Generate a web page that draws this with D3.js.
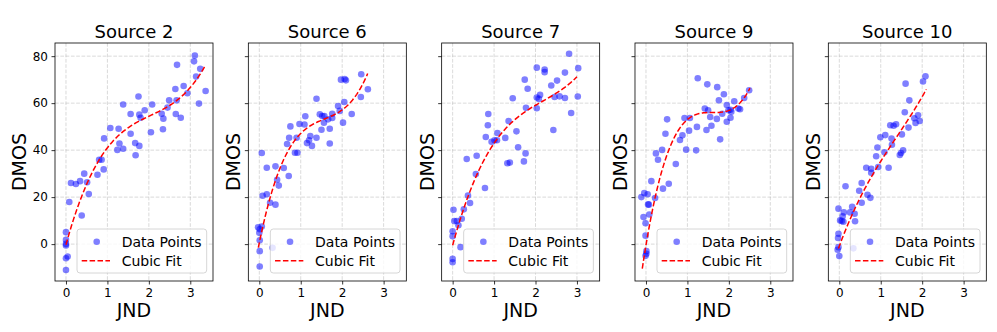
<html>
  <head>
    <meta charset="utf-8" />
    <script src="https://d3js.org/d3.v7.min.js"></script>
    <style>
      body {
        margin: 0;
        background: #fff;
      }
      text {
        font-family: "DejaVu Sans", sans-serif;
        fill: #000;
      }
    </style>
  </head>

  <body>
    <svg id="chart" width="997" height="332"></svg>
    <script>
      // values
      var sources = ["Source 2", "Source 6", "Source 7", "Source 9", "Source 10"];

      var jnd2 = [0, 0, 0, 0, 0, 0.04, 0, 0.08, 0.12, 0.24, 0.34, 0.44, 0.51, 0.55, 0.38, 0.76, 0.8, 0.86, 0.91, 0.92,
        1.07, 1.27, 1.29, 1.38, 1.24, 1.38, 1.56, 1.56, 1.67, 1.68, 1.77, 1.75, 1.77, 1.8, 1.9, 2.05, 2.08, 2.31, 2.35,
        2.34, 2.45, 2.49, 2.64, 2.65, 2.67, 2.68, 2.77, 2.84, 2.93, 3.11, 3.09, 3.14, 3.21, 3.24, 3.37];
      var dmos2 = [5.1, 1.8, 0.1, -0.6, -6, -5.3, -11, 17.9, 26, 25.6, 26.8, 30, 26.3, 21.3, 12.2, 29.5, 35.9, 35.9, 31.8, 45,
        49.4, 49.1, 42.8, 40.6, 40.1, 59.4, 47, 55.4, 43, 37.8, 41.8, 62.8, 55.1, 53.8, 57, 47.6, 59.4, 55.5, 53.4,
        48.9, 58.1, 61.2, 66, 55.4, 61.2, 76.3, 53.8, 67.3, 64.2, 80.3, 77.8, 71.3, 59.8, 74.6, 65.2];

      var jnd6 = [-0.03, 0.01, 0.06, 0, 0.01, 0.01, 0.01, 0.32, 0.06, 0.08, 0.18, 0.18, 0.26, 0.39, 0.39, 0.43, 0.47, 0.59,
        0.67, 0.71, 0.72, 0.75, 0.86, 0.92, 0.9, 0.97, 1.09, 1.11, 1.15, 1.2, 1.23, 1.27, 1.38, 1.38, 1.46, 1.5, 1.52,
        1.57, 1.56, 1.66, 1.7, 1.7, 1.76, 1.76, 1.9, 1.94, 1.97, 2.02, 2.05, 2.06, 2.09, 2.23, 2.45, 2.46, 2.62];
      var dmos6 = [7.2, 6.3, 7.5, 4.8, 1.6, -3, -9.5, -1.6, 38.8, 20.6, 21.2, 32.5, 17.6, 16.8, 33.1, 27.4, 24.9, 32.4,
        42.6, 29, 45.3, 50.1, 38.9, 38.9, 45.3, 51.1, 50.9, 54.4, 43, 44.2, 46, 41.8, 45.3, 61.9, 55.3, 48.7, 54.5,
        54.5, 51.7, 53.1, 49.1, 42.8, 53.7, 55.5, 58.8, 56.7, 70, 51.7, 60.5, 70.3, 69.7, 55.4, 62.6, 72.3, 65.9];

      var jnd7 = [0, 0, 0, 0, 0.02, 0.04, 0.1, 0.14, 0.19, 0.22, 0.27, 0.34, 0.37, 0.42, 0.56, 0.58, 0.78, 0.8, 0.85, 0.86,
        0.94, 1.01, 1.07, 1.08, 1.27, 1.32, 1.38, 1.35, 1.45, 1.54, 1.58, 1.72, 1.76, 1.77, 1.74, 1.81, 2.03, 2.03,
        2.03, 2.08, 2.11, 2.22, 2.22, 2.38, 2.43, 2.46, 2.52, 2.58, 2.71, 2.71, 2.81, 2.86, 3.02, 3.03];
      var dmos7 = [5.5, 3.4, -6.3, -7.7, 14.6, 9.8, 9.8, 8, -1.3, 10.8, 14.8, 36.2, 20.7, 17.5, 29.8, 37.6, 23.9, 45.6,
        50.6, 55.4, 43.6, 44.2, 44.2, 47.3, 45.2, 34.4, 34.7, 52.4, 62.1, 48, 41.2, 35.2, 38.6, 58, 70, 66.1, 75.1,
        62.4, 57.8, 61.8, 63.5, 74.3, 73.2, 67.5, 48.6, 62.6, 69.6, 62.9, 73, 62.2, 81, 55.8, 62.8, 74.9];

      var jnd9 = [-0.11, -0.04, 0.04, -0.06, -0.01, -0.01, 0.01, 0.01, -0.01, 0.05, 0.07, 0.08, 0.13, 0.22, 0.24, 0.29,
        0.39, 0.41, 0.47, 0.51, 0.55, 0.72, 0.82, 0.88, 0.93, 0.97, 1.04, 1.06, 1.21, 1.23, 1.25, 1.42, 1.46, 1.48,
        1.5, 1.55, 1.58, 1.71, 1.72, 1.76, 1.79, 1.84, 1.88, 1.95, 1.95, 1.99, 2.04, 2.04, 2.06, 2.13, 2.23, 2.27,
        2.37, 2.49];
      var dmos9 = [20, 21.7, 21.2, 11.5, 8.9, 3.6, -3, -4.1, -5, 16.9, 16.8, 12.6, 26.8, 19.6, 38.6, 35.9, 40.1, 23.6, 47,
        53.1, 25.7, 34.1, 44.3, 46.3, 53.7, 40.2, 48.3, 53.7, 39.9, 49.9, 70.6, 57.7, 48.6, 68, 57, 54.1, 50.4, 53.3,
        66.8, 61.2, 44.6, 55.5, 63.8, 59.2, 52.1, 57, 57.2, 53.8, 56.3, 60.8, 57.7, 57.4, 62.2, 65.5];

      var jnd10 = [-0.02, -0.02, -0.03, -0.02, -0.04, 0, 0.34, 0.02, 0.08, 0.11, 0.06, 0.1, 0.15, 0.26, 0.31, 0.37, 0.38,
        0.48, 0.54, 0.54, 0.68, 0.75, 0.65, 0.77, 0.77, 0.89, 0.92, 0.94, 0.99, 1.09, 1.11, 1.19, 1.23, 1.26, 1.27,
        1.31, 1.37, 1.46, 1.49, 1.51, 1.54, 1.58, 1.6, 1.67, 1.69, 1.81, 1.84, 1.9, 1.94, 2.02, 2.08];
      var dmos10 = [15.1, 4.4, 2.6, -1.3, -2.4, -5.1, -1.8, 10.1, 11.8, 13.5, 9.8, 9.5, 24.6, 13.5, 15.9, 12.9, 9.7, 22.7,
        26, 17.6, 21, 19.7, 32.5, 32.1, 30.4, 37.4, 41.1, 32.8, 45.5, 39.1, 46.4, 32.5, 50.6, 44.9, 42.3, 50.4, 51,
        37.9, 38.8, 46.7, 39.9, 56.1, 68.3, 49.6, 61.2, 53.6, 51.6, 54.8, 52.4, 69.2, 71.4];

      // points
      var fitX2 = [0, 0.51, 0.83, 1.19, 1.63, 2.11, 2.59, 2.91, 3.37];
      var fitY2 = [0, 25, 37, 45.6, 51, 54.8, 59.8, 65.5, 76.1];
      var fitX6 = [-0.024, 0.097, 0.258, 0.459, 0.7, 0.94, 1.26, 1.585, 1.91, 2.148, 2.39, 2.615];
      var fitY6 = [-2.4, 9, 20.3, 30.3, 40.2, 45.9, 50.1, 53, 55.8, 60, 65.7, 71.8];
      var fitX7 = [0, 0.26, 0.5, 0.82, 1.06, 1.38, 1.78, 2.18, 2.58, 3];
      var fitY7 = [0, 14.3, 25, 38.5, 44.9, 51.3, 56.3, 60.5, 65.5, 71.2];
      var fitX9 = [-0.089, 0.016, 0.137, 0.298, 0.539, 0.78, 1.02, 1.34, 1.75, 2.07, 2.31, 2.51];
      var fitY9 = [-10.2, 0.5, 13.2, 26, 38.8, 48.7, 53.7, 55.4, 55.8, 57.5, 61.5, 66];
      var fitX10 = [-0.02, 0.24, 0.65, 1.05, 1.45, 1.77, 2.1];
      var fitY10 = [-2, 10.1, 24.3, 37, 47, 56.3, 65.8];

      var xTicks = [0, 1, 2, 3];
      var yTicks = [0, 20, 40, 60, 80];

      var series = [
        { x: jnd2, y: dmos2, fx: fitX2, fy: fitY2 },
        { x: jnd6, y: dmos6, fx: fitX6, fy: fitY6 },
        { x: jnd7, y: dmos7, fx: fitX7, fy: fitY7 },
        { x: jnd9, y: dmos9, fx: fitX9, fy: fitY9 },
        { x: jnd10, y: dmos10, fx: fitX10, fy: fitY10 },
      ];

      // least squares cubic through the read curve points
      function cubicFit(xs, ys) {
        var n = 4;
        var A = [], b = [];
        for (var i = 0; i < n; i++) {
          A.push([0, 0, 0, 0]);
          b.push(0);
        }
        xs.forEach(function (x, k) {
          var p = [1, x, x * x, x * x * x];
          for (var i = 0; i < n; i++) {
            b[i] += p[i] * ys[k];
            for (var j = 0; j < n; j++) A[i][j] += p[i] * p[j];
          }
        });
        for (var c = 0; c < n; c++) {
          var piv = c;
          for (var r = c + 1; r < n; r++) if (Math.abs(A[r][c]) > Math.abs(A[piv][c])) piv = r;
          var t = A[c]; A[c] = A[piv]; A[piv] = t;
          var tb = b[c]; b[c] = b[piv]; b[piv] = tb;
          for (var r = c + 1; r < n; r++) {
            var f = A[r][c] / A[c][c];
            for (var j = c; j < n; j++) A[r][j] -= f * A[c][j];
            b[r] -= f * b[c];
          }
        }
        var coef = [0, 0, 0, 0];
        for (var i = n - 1; i >= 0; i--) {
          var s = b[i];
          for (var j = i + 1; j < n; j++) s -= A[i][j] * coef[j];
          coef[i] = s / A[i][i];
        }
        return coef;
      }

      var svg = d3.select("#chart");
      var plotTop = 43, plotBottom = 281, w = 158, step = 193.33, left0 = 55;

      var y = d3.scaleLinear().domain([-15.7, 85.6]).range([plotBottom, plotTop]);

      series.forEach(function (s, i) {
        var left = left0 + i * step;
        var x = d3.scaleLinear().domain([-0.265, 3.548]).range([left, left + w]);
        var g = svg.append("g");

        // grid
        g.selectAll(".gx").data(xTicks).enter().append("line")
          .attr("x1", (d) => x(d)).attr("x2", (d) => x(d))
          .attr("y1", plotTop).attr("y2", plotBottom)
          .attr("stroke", "#b0b0b0").attr("stroke-opacity", 0.6)
          .attr("stroke-dasharray", "3.7,1.6").attr("stroke-width", 0.8);
        g.selectAll(".gy").data(yTicks).enter().append("line")
          .attr("x1", left).attr("x2", left + w)
          .attr("y1", (d) => y(d)).attr("y2", (d) => y(d))
          .attr("stroke", "#b0b0b0").attr("stroke-opacity", 0.6)
          .attr("stroke-dasharray", "3.7,1.6").attr("stroke-width", 0.8);

        // points
        var pts = s.x.map((d, k) => [d, s.y[k]]);
        g.selectAll("circle.pt").data(pts).enter().append("circle")
          .attr("class", "pt")
          .attr("cx", (d) => x(d[0])).attr("cy", (d) => y(d[1]))
          .attr("r", 3.3)
          .attr("fill", "blue").attr("fill-opacity", 0.5);

        // cubic fit
        var c = cubicFit(s.fx, s.fy);
        var x0 = d3.min(s.fx), x1 = d3.max(s.fx);
        var xs = d3.range(0, 101).map((k) => x0 + (x1 - x0) * k / 100);
        var line = d3.line()
          .x((d) => x(d))
          .y((d) => y(c[0] + c[1] * d + c[2] * d * d + c[3] * d * d * d));
        g.append("path").datum(xs).attr("d", line)
          .attr("fill", "none").attr("stroke", "red").attr("stroke-width", 1.5)
          .attr("stroke-dasharray", "5.5,2.4");

        // axes
        var xa = g.append("g").attr("transform", "translate(0," + plotBottom + ")")
          .call(d3.axisBottom(x).tickValues(xTicks).tickSize(3.5).tickPadding(3.5).tickFormat(d3.format("d")));
        var ya = g.append("g").attr("transform", "translate(" + left + ",0)")
          .call(d3.axisLeft(y).tickValues(yTicks).tickSize(3.5).tickPadding(3.5)
            .tickFormat(i == 0 ? d3.format("d") : () => ""));
        [xa, ya].forEach(function (a) {
          a.select(".domain").remove();
          a.selectAll("line").attr("stroke", "#000").attr("stroke-width", 0.8);
          a.selectAll("text").style("font-size", "12px").attr("fill", "#000");
        });

        g.append("rect").attr("x", left).attr("y", plotTop).attr("width", w).attr("height", plotBottom - plotTop)
          .attr("fill", "none").attr("stroke", "#000").attr("stroke-width", 0.8);

        // titles
        g.append("text").attr("x", left + w / 2).attr("y", 38)
          .attr("text-anchor", "middle").style("font-size", "18px").text(sources[i]);
        g.append("text").attr("x", left + w / 2).attr("y", 317)
          .attr("text-anchor", "middle").style("font-size", "19px").text("JND");
        var ylx = i == 0 ? 26 : left - 8;
        g.append("text").attr("transform", "translate(" + ylx + "," + (plotTop + plotBottom) / 2 + ") rotate(-90)")
          .attr("text-anchor", "middle").style("font-size", "19px").text("DMOS");

        // legend
        var lg = g.append("g").attr("transform", "translate(" + (left + 22) + ",229)");
        lg.append("rect").attr("width", 129.7).attr("height", 44).attr("rx", 3)
          .attr("fill", "#fff").attr("fill-opacity", 0.8).attr("stroke", "#ccc").attr("stroke-width", 0.8);
        lg.append("circle").attr("cx", 19.7).attr("cy", 12.7).attr("r", 3.3)
          .attr("fill", "blue").attr("fill-opacity", 0.5);
        lg.append("text").attr("x", 44.7).attr("y", 17.5).style("font-size", "14px").text("Data Points");
        lg.append("line").attr("x1", 4.7).attr("x2", 33).attr("y1", 31.7).attr("y2", 31.7)
          .attr("stroke", "red").attr("stroke-width", 1.5).attr("stroke-dasharray", "5.5,2.4");
        lg.append("text").attr("x", 44.7).attr("y", 36.5).style("font-size", "14px").text("Cubic Fit");
      });
    </script>
  </body>
</html>
